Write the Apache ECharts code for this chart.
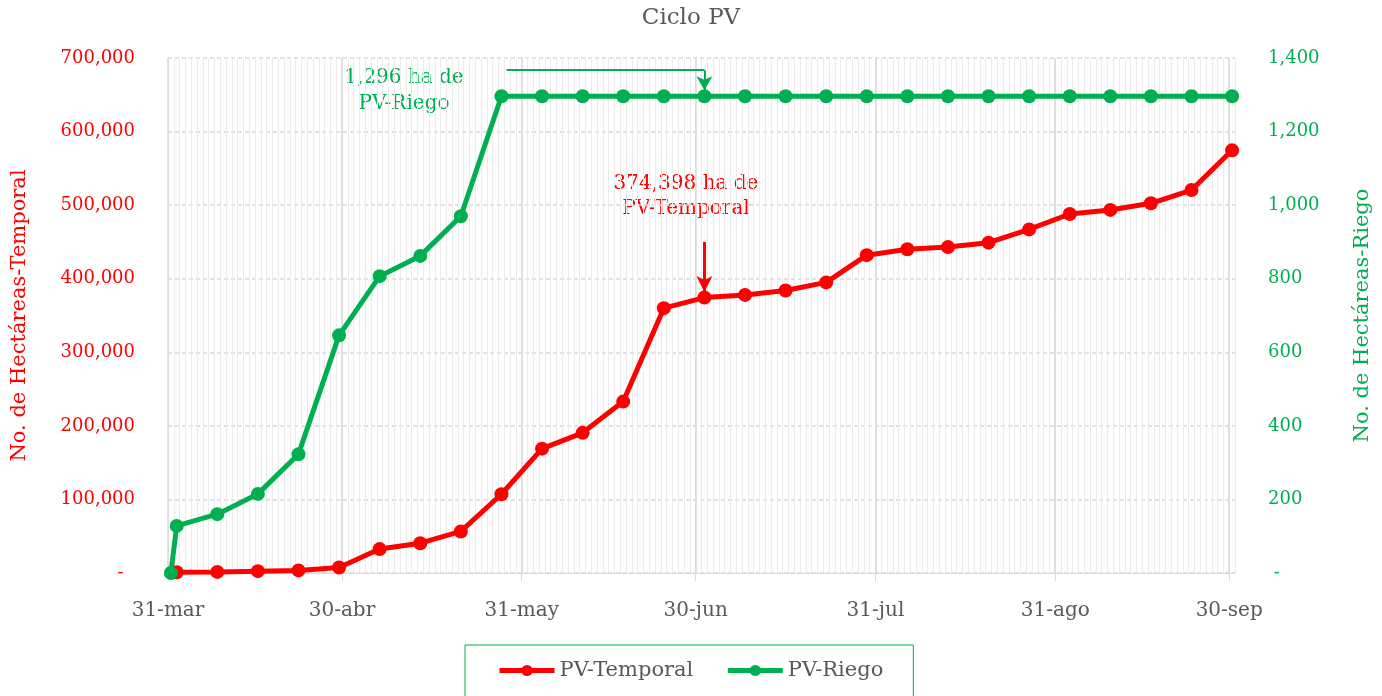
<!DOCTYPE html>
<html>
<head>
<meta charset="utf-8">
<script src="https://cdn.jsdelivr.net/npm/echarts@6/dist/echarts.min.js"></script>
<style>
  html, body { margin: 0; padding: 0; background: #fff; }
  #chart { width: 1382px; height: 696px; }
</style>
</head>
<body>
<div id="chart"></div>
<script>
// fechas semanales (PV-Temporal) y serie de riego con un punto inicial extra
const temporalDates = ['2023-04-01', '2023-04-08', '2023-04-15', '2023-04-22', '2023-04-29',
  '2023-05-06', '2023-05-13', '2023-05-20', '2023-05-27', '2023-06-03', '2023-06-10',
  '2023-06-17', '2023-06-24', '2023-07-01', '2023-07-08', '2023-07-15', '2023-07-22',
  '2023-07-29', '2023-08-05', '2023-08-12', '2023-08-19', '2023-08-26', '2023-09-02',
  '2023-09-09', '2023-09-16', '2023-09-23', '2023-09-30'];
const temporalValues = [1000, 1500, 2500, 3500, 7500, 32500, 40500, 56500, 107000, 169000,
  190500, 233000, 360000, 374398, 378000, 384000, 395000, 432000, 440000, 443000, 449000,
  467000, 488000, 493500, 502500, 520500, 574500];

const riegoDates = ['2023-03-31'].concat(temporalDates);
const riegoValues = [0, 128, 160, 215, 323, 646, 807, 862, 970, 1296, 1296, 1296, 1296,
  1296, 1296, 1296, 1296, 1296, 1296, 1296, 1296, 1296, 1296, 1296, 1296, 1296, 1296, 1296];

// etiquetas del eje X (fin de mes)
const monthDates = ['2023-03-31', '2023-04-30', '2023-05-31', '2023-06-30', '2023-07-31', '2023-08-31', '2023-09-30'];
const monthLabels = ['31-mar', '30-abr', '31-may', '30-jun', '31-jul', '31-ago', '30-sep'];

const startMs = Date.UTC(2023, 2, 31);
const dayOf = (s) => (Date.parse(s + 'T00:00:00Z') - startMs) / 86400000;
const monthDays = monthDates.map(dayOf);

const RED = '#ff0000';
const GREEN = '#00b050';
const GREY = '#595959';
const FONT = 'DejaVu Serif';

const fmt = (v) => v === 0 ? '-' : v.toLocaleString('en-US');

const temporalData = temporalDates.map((d, i) => [dayOf(d) + 0.5, temporalValues[i]]);
const riegoData = riegoDates.map((d, i) => [dayOf(d) + 0.5, riegoValues[i]]);

// punto anotado: 1-jul
const noteDay = dayOf('2023-07-01') + 0.5;

const chart = echarts.init(document.getElementById('chart'), null, { renderer: 'canvas' });

chart.setOption({
  animation: false,
  textStyle: { fontFamily: FONT },
  title: {
    text: 'Ciclo PV',
    left: 'center',
    top: 2,
    textStyle: { fontFamily: FONT, fontSize: 23, fontWeight: 'normal', color: GREY }
  },
  grid: { left: 168, right: 147, top: 58, bottom: 123 },
  legend: {
    left: 465,
    top: 645,
    padding: [15, 30, 30, 32],
    borderColor: GREEN,
    borderWidth: 1,
    itemWidth: 55,
    itemHeight: 14,
    itemGap: 32,
    lineStyle: { width: 5 },
    textStyle: { fontFamily: FONT, fontSize: 21, color: GREY },
    data: ['PV-Temporal', 'PV-Riego']
  },
  xAxis: [
    {
      // líneas diarias
      type: 'value', min: 0, max: 184, interval: 1,
      axisLine: { show: true, lineStyle: { color: '#d9d9d9', width: 1 } },
      axisTick: { show: false },
      axisLabel: { show: false },
      splitLine: { show: true, lineStyle: { color: '#ebebeb', width: 1 } }
    },
    {
      // líneas y etiquetas mensuales
      type: 'value', min: 0, max: 184, position: 'bottom',
      axisLine: { show: false },
      axisTick: { show: true, customValues: monthDays, length: 8, lineStyle: { color: '#d9d9d9' } },
      axisLabel: {
        show: true, customValues: monthDays, margin: 28,
        fontFamily: FONT, fontSize: 20, color: GREY,
        formatter: (v) => monthLabels[monthDays.indexOf(v)] ?? ''
      },
      splitLine: { show: true, lineStyle: { color: '#d9d9d9', width: 1.5 } }
    }
  ],
  yAxis: [
    {
      type: 'value', min: 0, max: 700000, interval: 100000,
      name: 'No. de Hectáreas-Temporal',
      nameLocation: 'middle', nameGap: 138,
      nameTextStyle: { fontFamily: FONT, fontSize: 21, color: RED },
      axisLine: { show: false }, axisTick: { show: false },
      axisLabel: { margin: 33, fontFamily: FONT, fontSize: 18, color: RED, formatter: (v) => v === 0 ? '-  ' : fmt(v) },
      splitLine: { show: true, lineStyle: { color: '#d9d9d9', type: [4, 3], width: 1.5 } }
    },
    {
      type: 'value', min: 0, max: 1400, interval: 200,
      name: 'No. de Hectáreas-Riego',
      nameLocation: 'middle', nameGap: 117, nameRotate: 90,
      nameTextStyle: { fontFamily: FONT, fontSize: 21, color: GREEN },
      axisLine: { show: false }, axisTick: { show: false },
      axisLabel: { margin: 33, fontFamily: FONT, fontSize: 18, color: GREEN, formatter: (v) => v === 0 ? ' -' : fmt(v) },
      splitLine: { show: false }
    }
  ],
  series: [
    {
      name: 'PV-Temporal',
      type: 'line',
      xAxisIndex: 0, yAxisIndex: 0,
      data: temporalData,
      symbol: 'circle', symbolSize: 14,
      lineStyle: { color: RED, width: 5 },
      itemStyle: { color: RED },
      z: 3,
      markLine: {
        silent: true,
        symbol: ['none', 'arrow'],
        symbolSize: [12, 16],
        label: { show: false },
        lineStyle: { color: RED, width: 3, type: 'solid' },
        data: [[{ coord: [noteDay, 450000] }, { coord: [noteDay, 382000] }]]
      }
    },
    {
      name: 'PV-Riego',
      type: 'line',
      xAxisIndex: 0, yAxisIndex: 1,
      data: riegoData,
      symbol: 'circle', symbolSize: 14,
      lineStyle: { color: GREEN, width: 5 },
      itemStyle: { color: GREEN },
      z: 4,
      markLine: {
        silent: true,
        label: { show: false },
        lineStyle: { color: GREEN, width: 2, type: 'solid' },
        data: [
          [{ coord: [58.4, 1367], symbol: 'none' }, { coord: [noteDay, 1367], symbol: 'none' }],
          [{ coord: [noteDay, 1367], symbol: 'none' }, { coord: [noteDay, 1312], symbol: 'arrow', symbolSize: [12, 14] }]
        ]
      }
    }
  ],
  graphic: [
    {
      type: 'text', x: 404, y: 65,
      style: { text: '1,296 ha de\nPV-Riego', fill: GREEN, font: '20px "DejaVu Serif"', align: 'center', lineHeight: 26 }
    },
    {
      type: 'text', x: 686, y: 171,
      style: { text: '374,398 ha de\nPV-Temporal', fill: RED, font: '20px "DejaVu Serif"', align: 'center', lineHeight: 25 }
    }
  ]
});
</script>
</body>
</html>
